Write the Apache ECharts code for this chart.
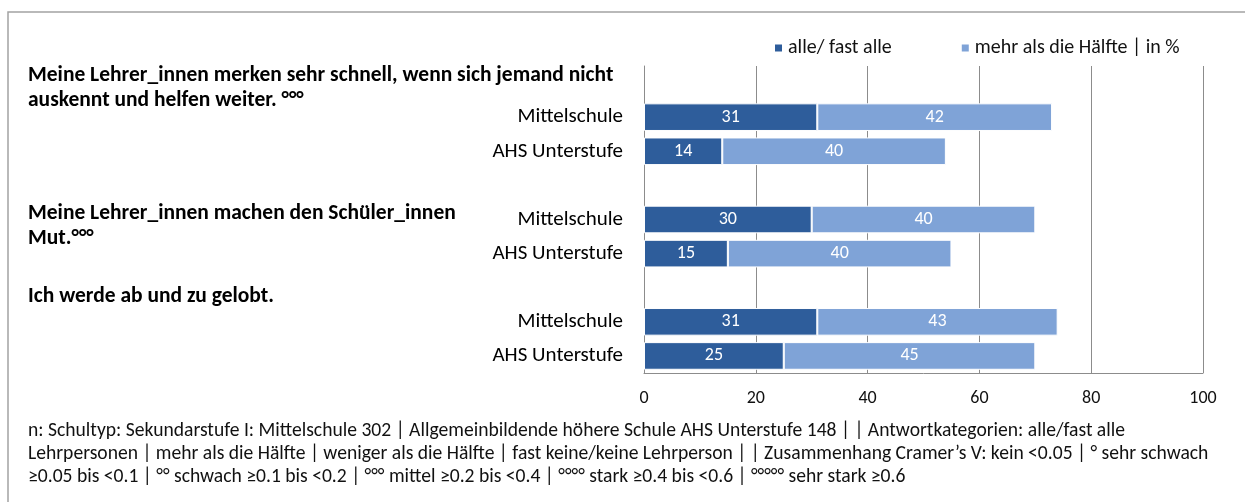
<!DOCTYPE html>
<html>
<head>
<meta charset="utf-8">
<script src="https://cdn.jsdelivr.net/npm/echarts@6/dist/echarts.min.js"></script>
<style>
  html, body { margin: 0; padding: 0; background: #fff; }
  #chart { width: 1245px; height: 502px; }
</style>
</head>
<body>
<div id="chart"></div>
<script>
// Fragen (linke Spalte, fett)
const questions = [
  "Meine Lehrer_innen merken sehr schnell, wenn sich jemand nicht\nauskennt und helfen weiter. °°°",
  "Meine Lehrer_innen machen den Schüler_innen\nMut.°°°",
  "Ich werde ab und zu gelobt."
];
const questionTop = [63, 201, 284]; // y of first text line

const schoolTypes = ["Mittelschule", "AHS Unterstufe"];
const seriesNames = ["alle/ fast alle", "mehr als die Hälfte | in %"];

// Werte je Frage: Mittelschule, AHS Unterstufe
const alleFastAlle = [31, 14, 30, 15, 31, 25];
const mehrAlsHaelfte = [42, 40, 40, 40, 43, 45];

const xTicks = [0, 20, 40, 60, 80, 100];

const footnote = [
  "n: Schultyp: Sekundarstufe I: Mittelschule 302 | Allgemeinbildende höhere Schule AHS Unterstufe 148 | | Antwortkategorien: alle/fast alle",
  "Lehrpersonen | mehr als die Hälfte | weniger als die Hälfte | fast keine/keine Lehrperson | | Zusammenhang Cramer’s V: kein <0.05 | ° sehr schwach",
  "≥0.05 bis <0.1 | °° schwach ≥0.1 bis <0.2 | °°° mittel ≥0.2 bis <0.4 | °°°° stark ≥0.4 bis <0.6 | °°°°° sehr stark ≥0.6"
];

const FONT = "Carlito, Lato, 'Open Sans', sans-serif";
const DARK = "#2e5d9b";
const LIGHT = "#7fa3d7";

// je Frage: eine Leerzeile + zwei Schultypen
let rows = [];
let s1 = [];
let s2 = [];
questions.forEach((q, i) => {
  rows.push("");
  s1.push("-");
  s2.push("-");
  schoolTypes.forEach((t, j) => {
    rows.push(t);
    s1.push(alleFastAlle[i * 2 + j]);
    s2.push(mehrAlsHaelfte[i * 2 + j]);
  });
});

const chart = echarts.init(document.getElementById("chart"), null, { renderer: "canvas" });

let graphics = [
  {
    type: "rect",
    shape: { x: 8, y: 12, width: 1300, height: 600 },
    style: { fill: "none", stroke: "#a3a3a3", lineWidth: 1.5 },
    silent: true
  }
];
questions.forEach((q, i) => {
  graphics.push({
    type: "text",
    style: {
      x: 28, y: questionTop[i], text: q,
      fontFamily: FONT, fontSize: 21.5, fontWeight: "bold",
      lineHeight: 25, fill: "#000", verticalAlign: "top"
    }
  });
});
graphics.push({
  type: "text",
  style: {
    x: 28, y: 420, text: footnote.join("\n"),
    fontFamily: FONT, fontSize: 19.6, lineHeight: 23,
    fill: "#111", verticalAlign: "top"
  }
});

const option = {
  animation: false,
  textStyle: { fontFamily: FONT },
  legend: {
    left: 768, top: 33,
    itemWidth: 9, itemHeight: 9, itemGap: 68,
    icon: "rect",
    textStyle: { fontSize: 20, color: "#111", fontFamily: FONT }
  },
  grid: { left: 644, right: 42, top: 66, bottom: 129 },
  xAxis: {
    type: "value",
    min: xTicks[0], max: xTicks[xTicks.length - 1], interval: 20,
    axisLine: { show: true, lineStyle: { color: "#8c8c8c", width: 1 } },
    axisTick: { show: false },
    axisLabel: { fontSize: 18, color: "#111", margin: 16, fontFamily: FONT },
    splitLine: { show: true, lineStyle: { color: "#8c8c8c", width: 1 } }
  },
  yAxis: {
    type: "category",
    data: rows,
    inverse: true,
    axisLine: { show: true, lineStyle: { color: "#8c8c8c", width: 1 } },
    axisTick: { show: false },
    axisLabel: { fontSize: 21, color: "#000", margin: 21, fontFamily: FONT }
  },
  series: [
    {
      name: seriesNames[0], type: "bar", stack: "a",
      data: s1, barCategoryGap: "19%",
      itemStyle: { color: DARK, borderColor: "#fff", borderWidth: 1 },
      label: { show: true, position: "inside", color: "#fff", fontSize: 18, fontFamily: FONT }
    },
    {
      name: seriesNames[1], type: "bar", stack: "a",
      data: s2, barCategoryGap: "19%",
      itemStyle: { color: LIGHT, borderColor: "#fff", borderWidth: 1 },
      label: { show: true, position: "inside", color: "#fff", fontSize: 18, fontFamily: FONT }
    }
  ],
  graphic: graphics
};

chart.setOption(option);
</script>
</body>
</html>
